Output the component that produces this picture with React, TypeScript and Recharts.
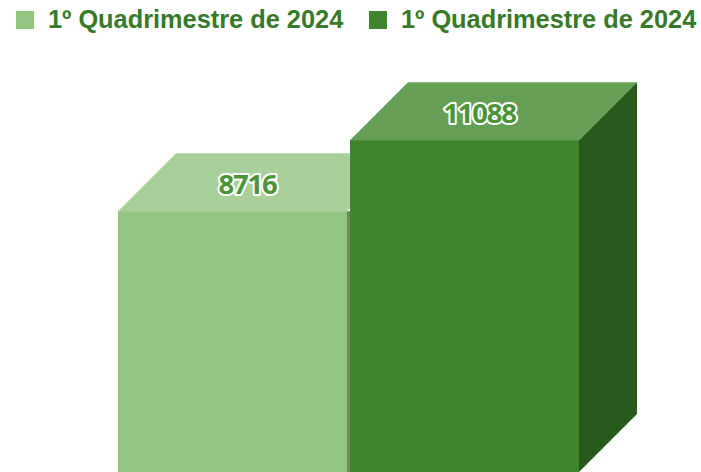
import React from "react";
import { BarChart, Bar, XAxis, YAxis, Legend, LabelList } from "recharts";

const categories = ["1º Quadrimestre de 2024"];
const seriesLabels = ["1º Quadrimestre de 2024", "1º Quadrimestre de 2024"];
const lightValues = [8716];
const darkValues = [11088];
const rows = categories.map((c, i) => ({ name: c, light: lightValues[i], dark: darkValues[i] }));

const DEPTH = 58;
const FONT = "'Liberation Sans', Arial, sans-serif";

const Box = ({ x, y, width, height, front, top, side, seam }: any) => {
  const d = DEPTH;
  return (
    <g>
      <polygon points={`${x},${y} ${x + d},${y - d} ${x + width + d},${y - d} ${x + width},${y}`} fill={top} />
      {side ? (
        <polygon points={`${x + width},${y} ${x + width + d},${y - d} ${x + width + d},${y + height - d} ${x + width},${y + height}`} fill={side} />
      ) : null}
      {seam ? <rect x={x - 3} y={y + 71} width={3} height={height - 71} fill={seam} /> : null}
      <rect x={x} y={y} width={width} height={height} fill={front} />
    </g>
  );
};

const TopLabel = ({ x, y, width, value }: any) => (
  <text
    x={x + width / 2 + 15}
    y={y - 17}
    textAnchor="middle"
    fontFamily="'Open Sans', sans-serif"
    fontWeight={700}
    fontSize={27.5}
    letterSpacing={-1.2}
    fill="#4C9438"
    stroke="#ffffff"
    strokeWidth={4}
    paintOrder="stroke"
    strokeLinejoin="round"
  >
    {value}
  </text>
);

const legendX = [16, 369];

const LegendContent = ({ payload }: any) => (
  <div style={{ position: "relative", width: 701, height: 0 }}>
    {(payload || []).map((p: any, i: number) => (
      <div key={i} style={{ position: "absolute", left: legendX[i], top: 0, display: "flex", alignItems: "center", height: 40 }}>
        <span style={{ display: "inline-block", width: 18, height: 18, background: p.color, marginRight: 14 }} />
        <span style={{ fontFamily: FONT, fontWeight: 700, fontSize: 25.35, color: "#38792A", whiteSpace: "nowrap", position: "relative", top: -1 }}>{p.value}</span>
      </div>
    ))}
  </div>
);

export default function App() {
  return (
    <div style={{ position: "absolute", left: 0, top: 0, width: 701, height: 472, overflow: "hidden", background: "#fff" }}>
      <BarChart
        width={701}
        height={472}
        data={rows}
        margin={{ top: 0, right: 122, bottom: 0, left: 118 }}
        barCategoryGap={0}
        barGap={3}
      >
        <XAxis dataKey="name" hide />
        <YAxis hide domain={[0, 15770]} />
        <Legend
          verticalAlign="top"
          content={<LegendContent />}
          wrapperStyle={{ position: "absolute", left: 0, top: 0, width: 701, height: 0 }}
        />
        <Bar
          dataKey="light"
          name={seriesLabels[0]}
          fill="#95C681"
          isAnimationActive={false}
          shape={(p: any) => <Box {...p} front="#95C681" top="#A9D09A" />}
        >
          <LabelList dataKey="light" content={<TopLabel />} />
        </Bar>
        <Bar
          dataKey="dark"
          name={seriesLabels[1]}
          fill="#3E852B"
          isAnimationActive={false}
          shape={(p: any) => <Box {...p} front="#3E852B" top="#659F55" side="#275A1B" seam="#6C8A60" />}
        >
          <LabelList dataKey="dark" content={<TopLabel />} />
        </Bar>
      </BarChart>
    </div>
  );
}
